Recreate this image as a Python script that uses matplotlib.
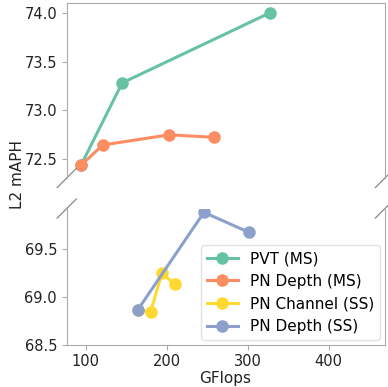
import numpy as np
import matplotlib.pyplot as plt

# GFlops / L2 mAPH
pvt_ms_x = [94, 145, 327]
pvt_ms_y = [72.43, 73.28, 74.0]
pn_depth_ms_x = [94, 121, 203, 258]
pn_depth_ms_y = [72.43, 72.64, 72.745, 72.72]
pn_channel_ss_x = [164, 180, 194, 210]
pn_channel_ss_y = [68.86, 68.84, 69.245, 69.13]
pn_depth_ss_x = [164, 246, 302]
pn_depth_ss_y = [68.86, 69.88, 69.67]

labels = ["PVT (MS)", "PN Depth (MS)", "PN Channel (SS)", "PN Depth (SS)"]
colors = ["#66c2a5", "#fc8d62", "#ffd92f", "#8da0cb"]

fs_tick = 10.5
fs = 11

fig = plt.figure(figsize=(3.88, 3.87), dpi=100)
left, width = 0.172, 0.820
ax_top = fig.add_axes([left, 0.540, width, 0.9915 - 0.540])
ax_bot = fig.add_axes([left, 0.1093, width, 0.4612 - 0.1093])

style = dict(linewidth=2.2, marker="o", markersize=8)
for ax in (ax_top, ax_bot):
    ax.plot(pvt_ms_x, pvt_ms_y, color=colors[0], label=labels[0], **style)
    ax.plot(pn_depth_ms_x, pn_depth_ms_y, color=colors[1], label=labels[1], **style)
    ax.plot(pn_channel_ss_x, pn_channel_ss_y, color=colors[2], label=labels[2], **style)
    ax.plot(pn_depth_ss_x, pn_depth_ss_y, color=colors[3], label=labels[3], **style)
    ax.set_xlim(76.5, 469.5)
    for s in ax.spines.values():
        s.set_color("#aaaaaa")
    ax.tick_params(colors="#aaaaaa", labelcolor="#222222", labelsize=fs_tick, length=3.5)

ax_top.set_ylim(72.3, 74.1)
ax_bot.set_ylim(68.5, 69.92)
ax_top.set_yticks([72.5, 73.0, 73.5, 74.0])
ax_bot.set_yticks([68.5, 69.0, 69.5])
ax_bot.set_xticks([100, 200, 300, 400])

ax_top.spines["bottom"].set_visible(False)
ax_bot.spines["top"].set_visible(False)
ax_top.tick_params(bottom=False, labelbottom=False)

# break marks, ~45 degree slashes
dx = 0.03
dy_top = dx * 318 / 175
dy_bot = dx * 318 / 136
kw = dict(transform=ax_top.transAxes, color="#888888", clip_on=False, linewidth=0.9)
ax_top.plot((-dx, +dx), (-dy_top, +dy_top), **kw)
ax_top.plot((1 - dx, 1 + dx), (-dy_top, +dy_top), **kw)
kw.update(transform=ax_bot.transAxes)
ax_bot.plot((-dx, +dx), (1 - dy_bot, 1 + dy_bot), **kw)
ax_bot.plot((1 - dx, 1 + dx), (1 - dy_bot, 1 + dy_bot), **kw)

leg = ax_bot.legend(loc="lower right", fontsize=fs, frameon=True,
                    borderaxespad=0.3, handlelength=2.0)
leg.get_frame().set_edgecolor("#dddddd")

fig.text(0.045, 0.548, "L2 mAPH", rotation=90, ha="center", va="center",
         fontsize=fs, color="#222222")
fig.text(0.58, 0.021, "GFlops", ha="center", va="center",
         fontsize=fs, color="#222222")

fig.savefig("out.png", dpi=100)
